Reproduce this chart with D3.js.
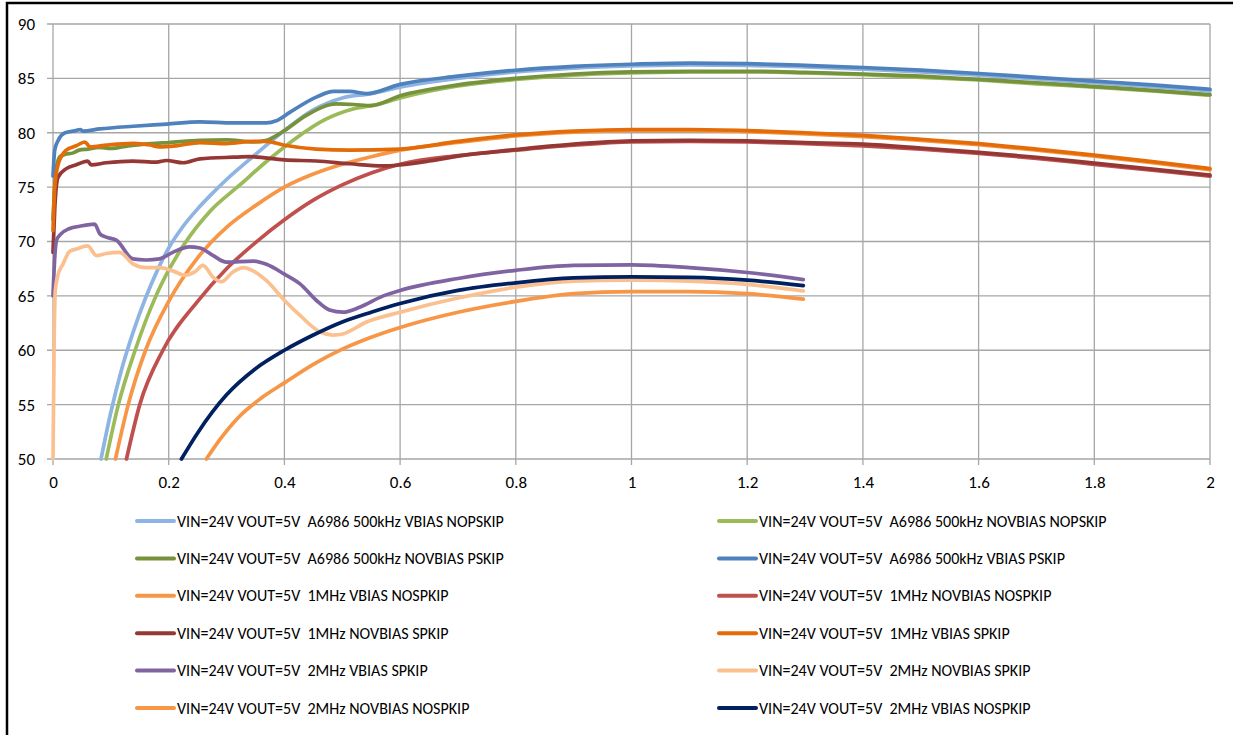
<!DOCTYPE html>
<html>
<head>
<meta charset="utf-8">
<script src="https://cdn.jsdelivr.net/npm/d3@7"></script>
<style>
  body { margin: 0; background: #fff; }
  text { font-family: Carlito, Calibri, Lato, sans-serif; fill: #000; }
</style>
</head>
<body>
<div id="chart"></div>
<script>
// ---- data ----
var seriesNames = [
  "VIN=24V VOUT=5V  A6986 500kHz VBIAS NOPSKIP",
  "VIN=24V VOUT=5V  A6986 500kHz NOVBIAS NOPSKIP",
  "VIN=24V VOUT=5V  A6986 500kHz NOVBIAS PSKIP",
  "VIN=24V VOUT=5V  A6986 500kHz VBIAS PSKIP",
  "VIN=24V VOUT=5V  1MHz VBIAS NOSPKIP",
  "VIN=24V VOUT=5V  1MHz NOVBIAS NOSPKIP",
  "VIN=24V VOUT=5V  1MHz NOVBIAS SPKIP",
  "VIN=24V VOUT=5V  1MHz VBIAS SPKIP",
  "VIN=24V VOUT=5V  2MHz VBIAS SPKIP",
  "VIN=24V VOUT=5V  2MHz NOVBIAS SPKIP",
  "VIN=24V VOUT=5V  2MHz NOVBIAS NOSPKIP",
  "VIN=24V VOUT=5V  2MHz VBIAS NOSPKIP"
]
var seriesColors = ["#8db4e2", "#9bbb59", "#76923c", "#4f81bd", "#f79646", "#c0504d",
                    "#953735", "#e36c09", "#8064a2", "#fac090", "#f79646", "#002060"]

var vbias500Nopskip = [[0.083,50],[0.1,54.3],[0.12,58.5],[0.14,61.9],[0.16,64.8],[0.18,67.3],[0.2,69.4],
  [0.225,71.4],[0.25,73.0],[0.275,74.4],[0.3,75.7],[0.35,78.0],[0.4,80.2],[0.45,82.1],[0.5,83.2],
  [0.55,83.6],[0.6,84.2],[0.7,85.0],[0.8,85.6],[0.9,85.95],[1.0,86.15],[1.1,86.25],[1.2,86.2],[1.3,86.05],
  [1.4,85.85],[1.5,85.6],[1.6,85.3],[1.7,84.95],[1.8,84.6],[1.9,84.25],[2.0,83.85]]
var novbias500Nopskip = [[0.092,50],[0.113,55],[0.142,60],[0.178,65],[0.225,69.6],[0.27,72.7],[0.323,75.2],
  [0.37,77.4],[0.42,79.5],[0.47,81.2],[0.52,82.2],[0.56,82.6],[0.6,83.2],[0.7,84.3],[0.8,84.9],[0.9,85.3],
  [1.0,85.5],[1.1,85.6],[1.2,85.6],[1.3,85.5],[1.4,85.35],[1.5,85.1],[1.6,84.85],[1.7,84.5],[1.8,84.2],
  [1.9,83.85],[2.0,83.45]]
var novbias500Pskip = [[0,72],[0.003,75],[0.006,76.8],[0.012,77.8],[0.02,78.0],[0.035,78.15],[0.045,78.4],
  [0.06,78.5],[0.08,78.65],[0.1,78.55],[0.13,78.8],[0.17,79.0],[0.2,79.1],[0.254,79.3],[0.3,79.35],
  [0.346,79.15],[0.369,79.3],[0.4,80.2],[0.438,81.6],[0.49,82.65],[0.52,82.6],[0.55,82.5],[0.6,83.4],
  [0.7,84.4],[0.8,85.0],[0.9,85.4],[1.0,85.6],[1.1,85.65],[1.2,85.65],[1.3,85.55],[1.4,85.4],[1.5,85.2],
  [1.6,84.9],[1.7,84.6],[1.8,84.25],[1.9,83.9],[2.0,83.5]]
var vbias500Pskip = [[0,76],[0.003,78.4],[0.009,79.3],[0.021,80.0],[0.04,80.2],[0.047,80.3],[0.052,80.15],
  [0.081,80.35],[0.139,80.6],[0.197,80.8],[0.254,81.0],[0.311,80.9],[0.369,80.9],[0.386,81.1],[0.41,81.9],
  [0.456,83.3],[0.485,83.8],[0.513,83.8],[0.542,83.6],[0.6,84.45],[0.7,85.2],[0.8,85.75],[0.9,86.1],
  [1.0,86.3],[1.1,86.4],[1.2,86.35],[1.3,86.2],[1.4,86.0],[1.5,85.75],[1.6,85.45],[1.7,85.1],[1.8,84.75],
  [1.9,84.4],[2.0,84.0]]
var vbias1mNospkip = [[0.108,50],[0.13,55],[0.16,60],[0.2,64.5],[0.25,68.5],[0.3,71.3],[0.35,73.3],[0.4,75],
  [0.45,76.2],[0.5,77.1],[0.55,77.8],[0.6,78.4],[0.7,79.1],[0.8,79.7],[0.9,80.05],[1.0,80.2],[1.1,80.2],
  [1.2,80.1],[1.3,79.9],[1.4,79.65],[1.5,79.3],[1.6,78.9],[1.7,78.4],[1.8,77.85],[1.9,77.25],[2.0,76.6]]
var novbias1mNospkip = [[0.127,50],[0.15,55],[0.19,60],[0.25,64.5],[0.3,67.5],[0.35,69.9],[0.4,72.0],
  [0.45,73.8],[0.5,75.2],[0.55,76.3],[0.6,77.1],[0.7,77.9],[0.8,78.4],[0.9,78.85],[1.0,79.15],[1.1,79.2],
  [1.2,79.15],[1.3,79.0],[1.4,78.8],[1.5,78.5],[1.6,78.1],[1.7,77.65],[1.8,77.1],[1.9,76.55],[2.0,76.0]]
var novbias1mSpkip = [[0,69],[0.003,73],[0.0086,75.9],[0.023,76.7],[0.04,77.05],[0.06,77.4],[0.066,77.05],
  [0.092,77.24],[0.138,77.4],[0.179,77.3],[0.196,77.45],[0.225,77.24],[0.254,77.6],[0.311,77.75],
  [0.34,77.8],[0.4,77.5],[0.455,77.4],[0.513,77.15],[0.57,76.95],[0.6,77.05],[0.65,77.4],[0.7,77.85],
  [0.8,78.45],[0.9,78.95],[1.0,79.25],[1.1,79.3],[1.2,79.25],[1.3,79.1],[1.4,78.95],[1.5,78.6],[1.6,78.2],
  [1.7,77.75],[1.8,77.2],[1.9,76.65],[2.0,76.1]]
var vbias1mSpkip = [[0,71],[0.003,75],[0.009,77.1],[0.023,78.4],[0.04,78.8],[0.055,79.15],[0.064,78.7],
  [0.093,78.87],[0.139,79.03],[0.168,78.87],[0.184,78.7],[0.213,78.8],[0.254,79.1],[0.3,79.0],[0.346,79.2],
  [0.369,79.2],[0.4,78.85],[0.455,78.5],[0.513,78.4],[0.6,78.5],[0.7,79.2],[0.8,79.8],[0.9,80.15],
  [1.0,80.3],[1.1,80.3],[1.2,80.2],[1.3,80.0],[1.4,79.75],[1.5,79.4],[1.6,79.0],[1.7,78.5],[1.8,77.95],
  [1.9,77.35],[2.0,76.7]]
var vbias2mSpkip = [[0,65],[0.003,68.5],[0.006,70.1],[0.012,70.6],[0.029,71.2],[0.046,71.4],[0.072,71.6],
  [0.081,70.7],[0.092,70.4],[0.11,70.1],[0.138,68.4],[0.161,68.3],[0.184,68.4],[0.207,69.0],[0.236,69.5],
  [0.254,69.4],[0.277,68.7],[0.3,68.1],[0.346,68.2],[0.369,67.9],[0.4,67.0],[0.427,66.1],[0.455,64.6],
  [0.478,63.7],[0.501,63.5],[0.53,63.95],[0.571,65.0],[0.6,65.5],[0.7,66.6],[0.8,67.35],[0.9,67.8],
  [1.0,67.85],[1.1,67.6],[1.2,67.15],[1.297,66.5]]
var novbias2mSpkip = [[0,50],[0.002,61],[0.004,65.5],[0.008,66.8],[0.017,67.9],[0.029,69.1],[0.04,69.3],
  [0.06,69.6],[0.075,68.7],[0.092,68.9],[0.115,69.0],[0.138,67.95],[0.161,67.6],[0.184,67.6],[0.207,67.3],
  [0.228,66.9],[0.245,67.2],[0.259,67.8],[0.277,66.7],[0.291,66.3],[0.311,67.2],[0.329,67.6],[0.346,67.3],
  [0.369,66.4],[0.4,64.6],[0.427,63.2],[0.461,61.7],[0.484,61.4],[0.501,61.5],[0.542,62.6],[0.6,63.5],
  [0.7,64.8],[0.8,65.8],[0.9,66.35],[1.0,66.45],[1.1,66.35],[1.2,66.05],[1.297,65.45]]
var novbias2mNospkip = [[0.265,50],[0.29,51.9],[0.32,53.8],[0.36,55.6],[0.4,57.0],[0.45,58.7],[0.5,60.1],
  [0.55,61.2],[0.6,62.1],[0.7,63.5],[0.8,64.5],[0.9,65.2],[1.0,65.4],[1.1,65.4],[1.2,65.2],[1.297,64.7]]
var vbias2mNospkip = [[0.222,50],[0.25,52.4],[0.3,55.9],[0.35,58.3],[0.4,60.0],[0.45,61.4],[0.5,62.6],
  [0.55,63.5],[0.6,64.3],[0.7,65.5],[0.8,66.2],[0.9,66.65],[1.0,66.75],[1.1,66.7],[1.2,66.45],[1.297,65.95]]

var seriesData = [vbias500Nopskip, novbias500Nopskip, novbias500Pskip, vbias500Pskip,
  vbias1mNospkip, novbias1mNospkip, novbias1mSpkip, vbias1mSpkip,
  vbias2mSpkip, novbias2mSpkip, novbias2mNospkip, vbias2mNospkip]

var xTicks = [0, 0.2, 0.4, 0.6, 0.8, 1, 1.2, 1.4, 1.6, 1.8, 2]
var yTicks = [50, 55, 60, 65, 70, 75, 80, 85, 90]

// ---- layout ----
var width = 1233, height = 735
var plot = {left: 53, right: 1210, top: 24, bottom: 459}

var svg = d3.select("#chart").append("svg")
    .attr("width", width)
    .attr("height", height)

// chart frame (cut by the picture on right and bottom)
svg.append("rect")
    .attr("x", 7).attr("y", 3)
    .attr("width", width + 20).attr("height", height + 20)
    .attr("fill", "#fff")
    .attr("stroke", "#000")
    .attr("stroke-width", 2.5)

// escalas
var eX = d3.scaleLinear().domain([0, 2]).range([plot.left, plot.right])
var eY = d3.scaleLinear().domain([50, 90]).range([plot.bottom, plot.top])

// grid
svg.append("g").selectAll("line").data(yTicks).enter().append("line")
    .attr("x1", plot.left - 6).attr("x2", plot.right)
    .attr("y1", function(d){ return eY(d) }).attr("y2", function(d){ return eY(d) })
    .attr("stroke", "#a6a6a6").attr("stroke-width", 1.3)
svg.append("g").selectAll("line").data(xTicks).enter().append("line")
    .attr("x1", function(d){ return eX(d) }).attr("x2", function(d){ return eX(d) })
    .attr("y1", plot.top).attr("y2", plot.bottom + 6)
    .attr("stroke", "#a6a6a6").attr("stroke-width", 1.3)

// ejes (labels only, lines drawn above as grid)
var xAxis = d3.axisBottom(eX).tickValues(xTicks).tickSize(0).tickPadding(17)
    .tickFormat(function(d){ return String(d) })
var yAxis = d3.axisLeft(eY).tickValues(yTicks).tickSize(0).tickPadding(18)

var gx = svg.append("g").attr("transform", "translate(0," + plot.bottom + ")").call(xAxis)
var gy = svg.append("g").attr("transform", "translate(" + plot.left + ",0)").call(yAxis)
gx.select(".domain").remove()
gy.select(".domain").remove()
svg.selectAll(".tick text")
    .style("font-family", "Carlito, Calibri, Lato, sans-serif")
    .style("font-size", "17px")
    .attr("fill", "#000")

// lines
var line = d3.line()
    .x(function(d){ return eX(d[0]) })
    .y(function(d){ return eY(d[1]) })
    .curve(d3.curveMonotoneX)

svg.append("g").selectAll("path").data(seriesData).enter().append("path")
    .attr("d", line)
    .attr("fill", "none")
    .attr("stroke", function(d, i){ return seriesColors[i] })
    .attr("stroke-width", 3.7)
    .attr("stroke-linejoin", "round")
    .attr("stroke-linecap", "round")

// LEYENDA
var rowY = d3.scaleLinear().domain([0, 5]).range([521, 708])
var colX = [137, 719]
var legend = svg.append("g").selectAll("g").data(seriesNames).enter().append("g")
    .attr("transform", function(d, i){
      return "translate(" + colX[i % 2] + "," + rowY(Math.floor(i / 2)) + ")" })
legend.append("line")
    .attr("x1", 0).attr("x2", 37)
    .attr("stroke", function(d, i){ return seriesColors[i] })
    .attr("stroke-width", 4)
    .attr("stroke-linecap", "round")
var labels = legend.append("text")
    .attr("x", 40)
    .attr("dy", "0.35em")
    .style("white-space", "pre")
    .style("font-size", "100px")
    .text(function(d){ return d })

// fit the legend font to the reference width of the first label
var w0 = labels.nodes()[0].getComputedTextLength()
labels.style("font-size", (100 * 327 / w0).toFixed(2) + "px")
</script>
</body>
</html>
